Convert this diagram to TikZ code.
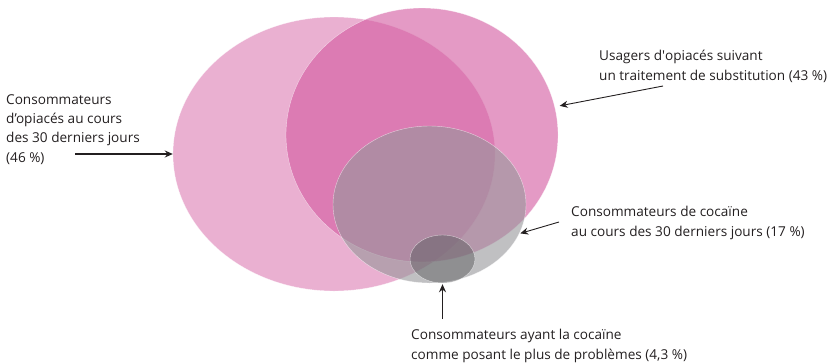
\documentclass[tikz,border=0pt]{standalone}
\usepackage{fontspec}
\setmainfont{Open Sans}
\usetikzlibrary{shapes.geometric,arrows.meta}

\definecolor{rose}{RGB}{210,87,158}
\definecolor{cendre}{RGB}{150,150,154}
\definecolor{ardoise}{RGB}{95,95,98}
\definecolor{encre}{RGB}{35,31,32}

\begin{document}
\begin{tikzpicture}[x=1pt,y=-1pt,
	bulle/.style={ellipse, inner sep=0pt, draw=white, draw opacity=0.6, line width=0.4pt},
	legende/.style={align=left, anchor=base west, inner sep=0pt, text=encre, font=\fontsize{13.6}{19.2}\selectfont},
	fleche/.style={-{Stealth[length=8pt,width=7pt]}, draw=encre, line width=0.9pt}]
	\useasboundingbox (0,0) rectangle (838,362);
	% the four sets
	\draw (334,154) node[bulle, fill=rose, fill opacity=0.47, minimum width=322pt, minimum height=274pt] (opi) {};
	\draw (422,135) node[bulle, fill=rose, fill opacity=0.6, minimum width=272pt, minimum height=254pt] (sub) {};
	\draw (429.5,204.5) node[bulle, fill=cendre, fill opacity=0.6, minimum width=193pt, minimum height=157pt] (coc) {};
	\draw (442.5,259) node[bulle, fill=ardoise, fill opacity=0.5, minimum width=65pt, minimum height=48pt] (prob) {};
	% labels (base = last line)
	\node[legende] (lopi) at (6,162) {Consommateurs\\d'opiacés au cours\\des 30 derniers jours\\(46~\%)};
	\node[legende] (lsub) at (599,80) {Usagers d\textquotesingle opiacés suivant\\un traitement de substitution (43~\%)};
	\node[legende] (lcoc) at (571,236) {Consommateurs de cocaïne\\au cours des 30 derniers jours (17~\%)};
	\node[legende] (lprob) at (411,359) {Consommateurs ayant la cocaïne\\comme posant le plus de problèmes (4,3~\%)};
	% arrows
	\coordinate (dopi) at (75,154);
	\coordinate (dsub) at (663,86);
	\coordinate (dcoc) at (559,222);
	\coordinate (dprob) at (442.5,319);
	\draw[fleche, line width=1.6pt] (dopi) -- (opi.west);
	\draw[fleche, shorten >=5pt] (dsub) -- (sub.12);
	\draw[fleche, shorten >=1pt] (dcoc) -- (coc.-18);
	\draw[fleche, line width=1.6pt, shorten >=1pt] (dprob) -- (prob.south);
\end{tikzpicture}
\end{document}
